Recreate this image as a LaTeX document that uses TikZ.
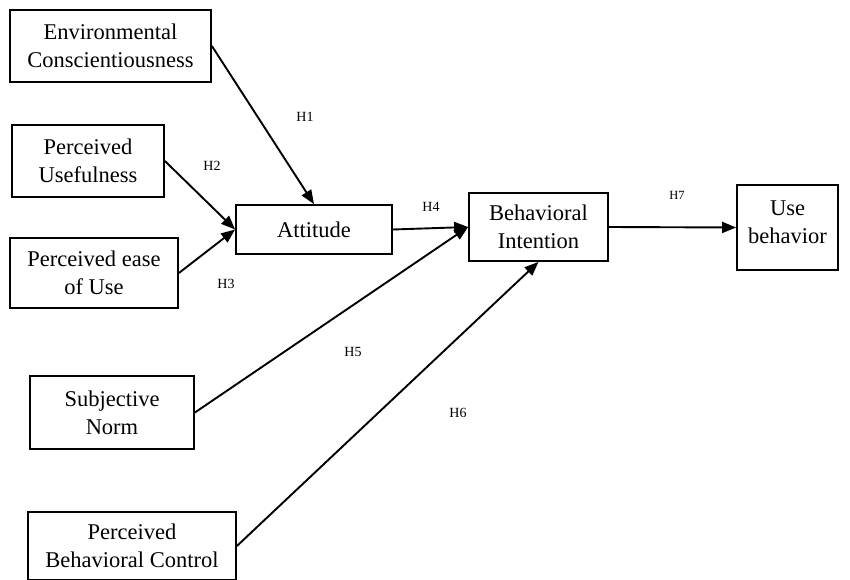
\documentclass[tikz,border=0pt]{standalone}
\usepackage{fontspec}
\setmainfont{Liberation Serif}
\usetikzlibrary{arrows.meta}
\tikzset{
  conbox/.style={draw, line width=1.8pt, align=center, inner sep=0pt,
    font=\fontsize{22.5}{28}\selectfont},
  hyplab/.style={font=\fontsize{14}{16}\selectfont, inner sep=1pt},
  hflow/.style={-{Triangle[length=14pt, width=11pt]}, line width=1.9pt},
}
\begin{document}
\begin{tikzpicture}[x=1pt, y=-1pt]
\useasboundingbox (0,0) rectangle (850,580);
% constructs
\node[conbox, minimum width=201pt, minimum height=72pt] (envc) at (110.5,46) {Environmental\\Conscientiousness};
\node[conbox, minimum width=152pt, minimum height=72pt] (pu) at (88,161) {Perceived\\Usefulness};
\node[conbox, minimum width=168pt, minimum height=70pt] (peu) at (94,273) {Perceived ease\\of Use};
\node[conbox, minimum width=156pt, minimum height=49pt] (att) at (314,229.5) {Attitude};
\node[conbox, minimum width=139pt, minimum height=68pt] (bi) at (538.5,227) {Behavioral\\Intention};
\node[conbox, minimum width=101pt, minimum height=85pt, text depth=10pt] (ub) at (787.5,227.5) {Use\\behavior};
\node[conbox, minimum width=164pt, minimum height=73pt] (sn) at (112,412.5) {Subjective\\Norm};
\node[conbox, minimum width=208pt, minimum height=68pt] (pbc) at (132,546) {Perceived\\Behavioral Control};
% hypothesised paths
\draw[hflow] (envc.east) -- (att.north);
\draw[hflow] (pu.east) -- (att.west);
\draw[hflow] (peu.east) -- (att.west);
\draw[hflow] (att.east) -- (bi.west);
\draw[hflow] (sn.east) -- (bi.west);
\draw[hflow] (pbc.east) -- (bi.south);
\draw[hflow] (bi.east) -- (ub.west);
% labels
\node[hyplab] (h1) at (305,117) {H1};
\node[hyplab] (h2) at (212,166) {H2};
\node[hyplab] (h3) at (226,284) {H3};
\node[hyplab] (h4) at (431,207) {H4};
\node[hyplab] (h5) at (353,352) {H5};
\node[hyplab] (h6) at (458,413) {H6};
\node[hyplab, font=\fontsize{12.5}{14}\selectfont] (h7) at (677,195) {H7};
\end{tikzpicture}
\end{document}
